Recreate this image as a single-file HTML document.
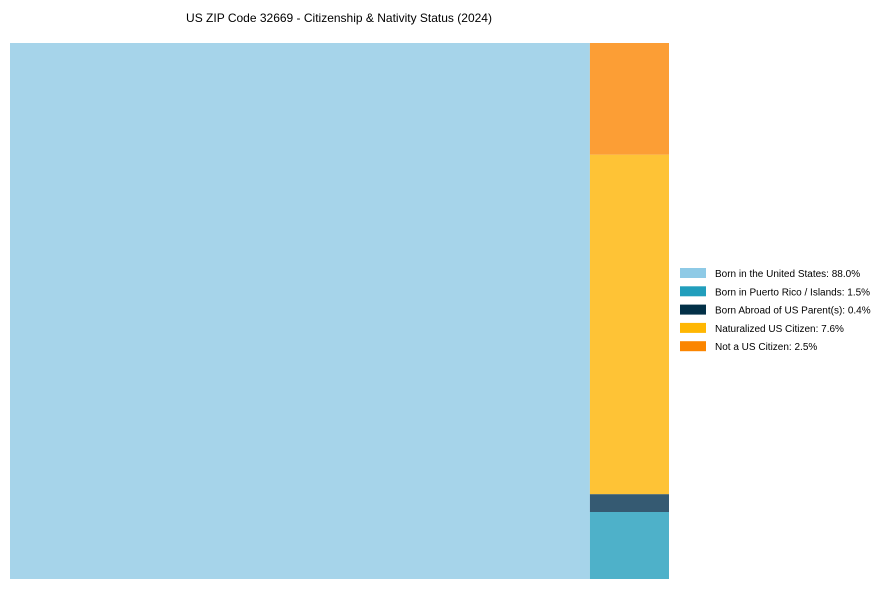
<!DOCTYPE html>
<html><head><meta charset="utf-8"><style>
body{margin:0;background:#fff;font-family:"Liberation Sans",Arial,sans-serif}
svg{display:block}
</style></head><body>
<svg id="c" width="889" height="590">
<text x="339" y="22" text-anchor="middle" font-size="12" fill="#000">US ZIP Code 32669 - Citizenship &amp; Nativity Status (2024)</text>
<g id="tiles"></g>
<g id="legend"></g>
</svg>
<script>
const categories=["Born in the United States","Born in Puerto Rico / Islands","Born Abroad of US Parent(s)","Naturalized US Citizen","Not a US Citizen"];
const values=[88.0,1.5,0.4,7.6,2.5];
const fills=["#a6d4ea","#4eb1c9","#355a72","#fec336","#fc9e35"];
const swatches=["#8ecae6","#219ebc","#023047","#ffb703","#fb8500"];
const NS="http://www.w3.org/2000/svg";
const X0=10,X1=669,Y0=43,Y1=579;
const total=values.reduce((a,b)=>a+b,0);
const tiles=document.getElementById('tiles');
function rect(x,y,w,h,f,name){const r=document.createElementNS(NS,'rect');
r.setAttribute('x',x);r.setAttribute('y',y);r.setAttribute('width',w);r.setAttribute('height',h);r.setAttribute('fill',f);


return r;}
const W=X1-X0,H=Y1-Y0;
const w0=W*values[0]/total;
tiles.appendChild(rect(X0,Y0,w0,H,fills[0],'tile-born-in-us'));
const rest=total-values[0];
let y=Y1;
for(let i=1;i<values.length;i++){const h=H*values[i]/rest;y-=h;
tiles.appendChild(rect(X0+w0,y,W-w0,h,fills[i],'tile-'+i));}
const lg=document.getElementById('legend');
categories.forEach((c,i)=>{const yy=268+i*18.3;
const g=document.createElementNS(NS,'g');


g.appendChild(rect(680,yy,26,10,swatches[i],'legend-swatch'));
const t=document.createElementNS(NS,'text');t.setAttribute('x',715);t.setAttribute('y',yy+9);
t.setAttribute('font-size','10');t.textContent=c+': '+values[i].toFixed(1)+'%';


g.appendChild(t);lg.appendChild(g);});
</script>
</body></html>
